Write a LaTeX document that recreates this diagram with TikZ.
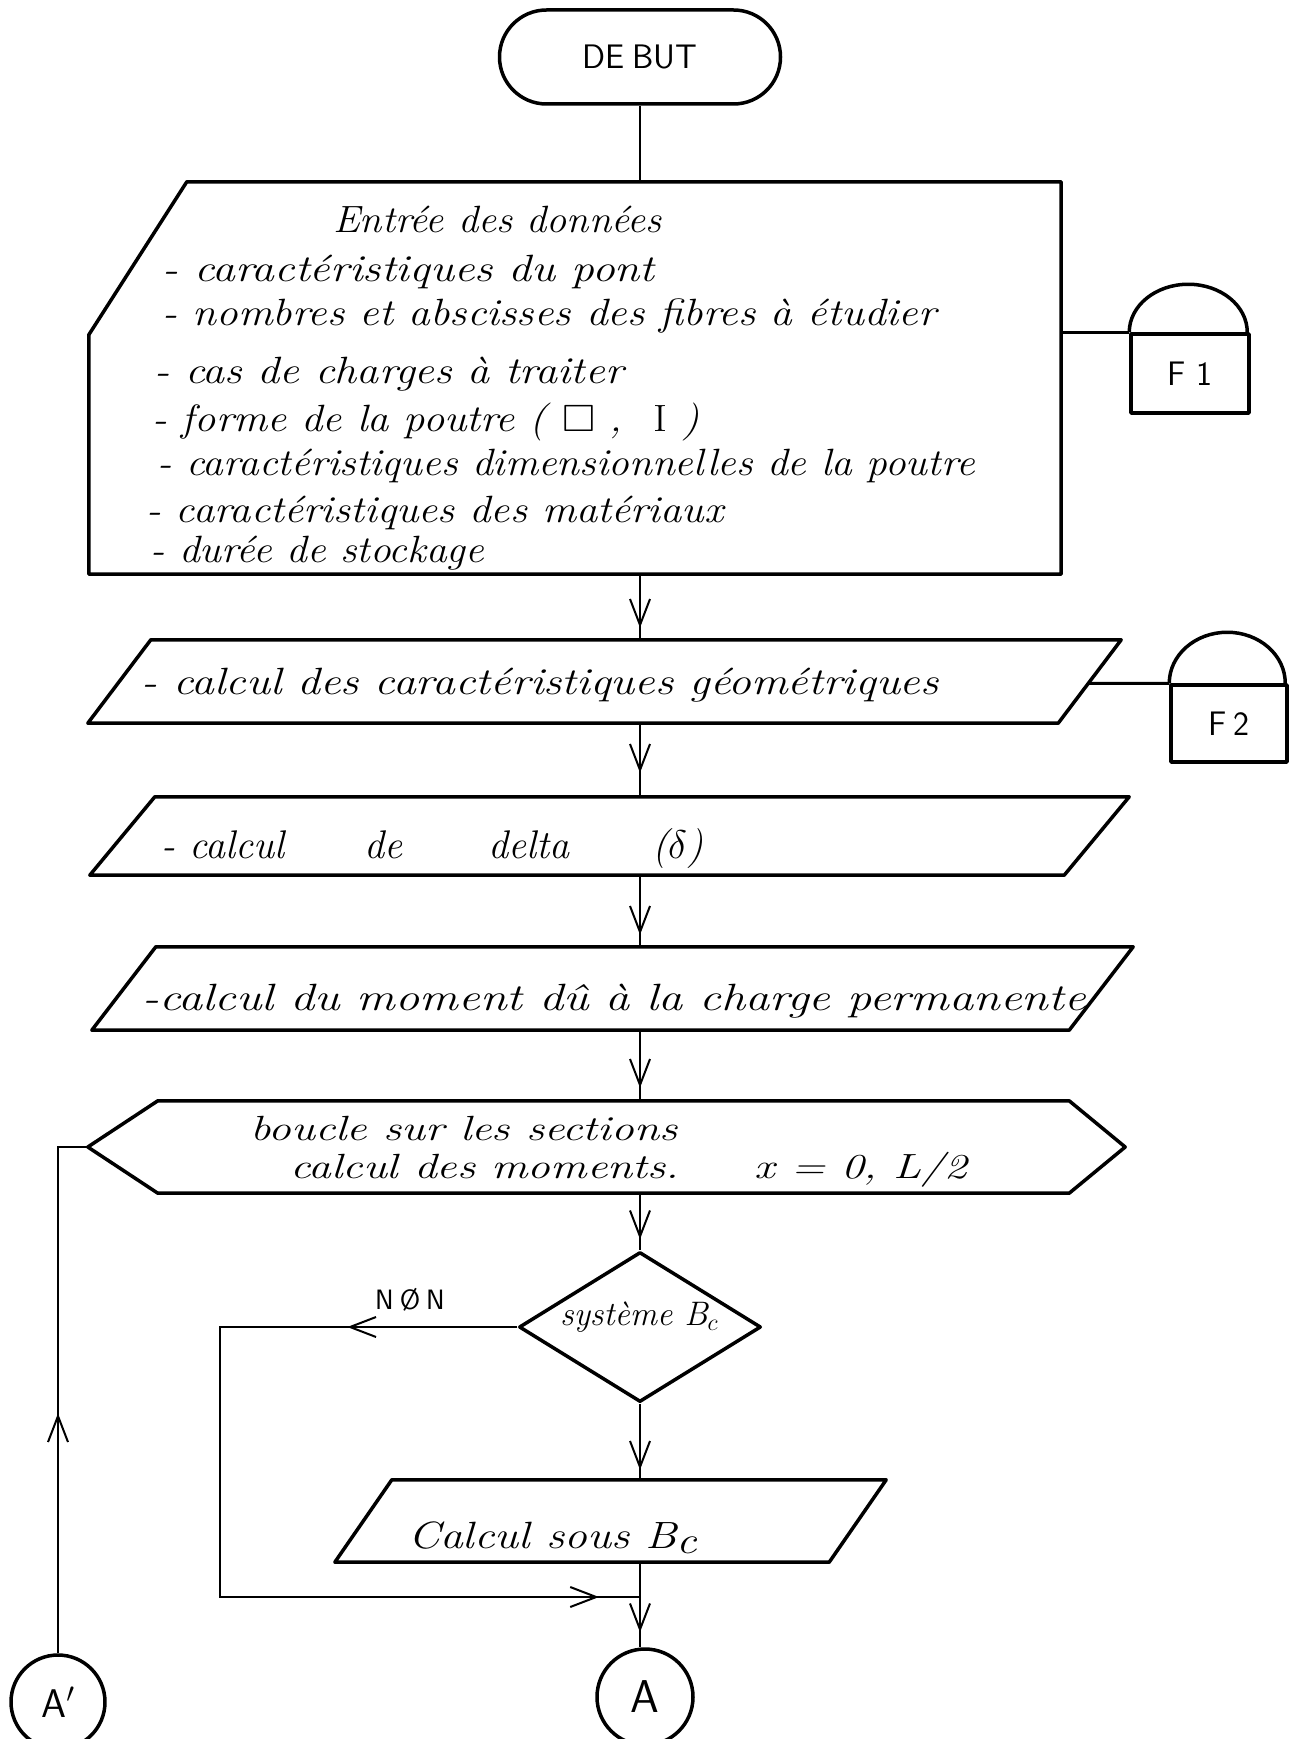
\RequirePackage{fix-cm}
\documentclass[tikz,border=0pt]{standalone}
\usepackage{amssymb}
\usepackage{graphicx}
\usetikzlibrary{arrows.meta,decorations.markings,shapes.geometric}
\newcommand\hs[2]{\scalebox{#1}[1]{#2}}
\begin{document}
\begin{tikzpicture}[x=1pt,y=-1pt,
  outline/.style={line width=3.5pt, line join=round},
  conn/.style={line width=2pt},
  frame/.style={inner sep=0pt, draw=none},
  hw/.style={font=\fontsize{38}{44}\selectfont\itshape, inner sep=0pt, anchor=base west},
  hwmid/.style={font=\fontsize{35}{40}\selectfont\itshape, inner sep=0pt, anchor=base west},
  hwsmall/.style={font=\fontsize{34}{40}\selectfont\itshape, inner sep=0pt, anchor=base west},
  caps/.style={font=\fontsize{34}{40}\selectfont\sffamily, inner sep=0pt},
  arrowat/.style={postaction={decorate,decoration={markings,mark=at position #1 with {\arrow{Straight Barb[length=26pt,width=20pt,line width=2pt]}}}}},
]
\fill[white] (0,0) rectangle (1296,1739);
\useasboundingbox (0,0) rectangle (1296,1739);

% start
\node[draw, outline, rounded corners=47pt, minimum width=281pt, minimum height=94pt, caps] (debut) at (640,57) {DE\hspace{8pt}BUT};

% input box
\node[frame, minimum width=972pt, minimum height=392pt] (in) at (575,378) {};
\draw[outline] ([xshift=98pt]in.north west) -- (in.north east) -- (in.south east) -- (in.south west) -- ([yshift=-153pt]in.north west) -- cycle;
\node[hw] (t0) at (333,233) {\hs{1.06}{Entrée des données}};
\node[hw] (t1) at (162,281) {\hs{1.2}{- caractéristiques du pont}};
\node[hw] (t2) at (162,325) {\hs{1.14}{- nombres et abscisses des fibres à étudier}};
\node[hw] (t3) at (154,383) {\hs{1.16}{- cas de charges à traiter}};
\node[hw] (t4) at (152,431) {\hs{1.12}{- forme de la poutre (\hspace{14pt}$\square$\hspace{12pt},\hspace{28pt}\textup{I}\hspace{14pt})}};
\node[hw] (t5) at (157,475) {\hs{1.09}{- caractéristiques dimensionnelles de la poutre}};
\node[hw] (t6) at (146,522) {\hs{1.12}{- caractéristiques des matériaux}};
\node[hw] (t7) at (150,562) {\hs{1.09}{- durée de stockage}};

% F1
\node[frame, draw, outline, minimum width=118pt, minimum height=79pt, caps] (f1) at (1190,373.5) {F\hspace{10pt}1};
\draw[outline] (f1.north west) arc[start angle=180, end angle=0, x radius=59pt, y radius=48pt];
\draw[line width=3pt] (in.east |- f1.north west) -- (f1.north west);

% p2
\node[frame, minimum width=1033pt, minimum height=83pt] (p2) at (604.5,681.5) {};
\draw[outline] ([xshift=63pt]p2.north west) -- (p2.north east) -- ([xshift=-63pt]p2.south east) -- (p2.south west) -- cycle;
\node[hw] (t8) at (141,694) {\hs{1.2}{- calcul des caractéristiques géométriques}};
\coordinate (p2se) at ([xshift=-63pt]p2.south east);

% F2
\node[frame, draw, outline, minimum width=116pt, minimum height=77pt, caps] (f2) at (1229,723.5) {F\hspace{6pt}2};
\draw[outline] (f2.north west) arc[start angle=180, end angle=0, x radius=58pt, y radius=51pt];
\draw[line width=3pt] (intersection of p2.north east--p2se and f2.north west--f2.north east) -- (f2.north west);

% p3
\node[frame, minimum width=1039pt, minimum height=78pt] (p3) at (609.5,836) {};
\draw[outline] ([xshift=65pt]p3.north west) -- (p3.north east) -- ([xshift=-65pt]p3.south east) -- (p3.south west) -- cycle;
\node[hw, font=\fontsize{40}{44}\selectfont\itshape] (t9) at (161,858) {\makebox[203pt][l]{- calcul}\makebox[124pt][l]{de}\makebox[164pt][l]{delta}($\delta$)};

% p4
\node[frame, minimum width=1041pt, minimum height=83pt] (p4) at (612.5,988.5) {};
\draw[outline] ([xshift=64pt]p4.north west) -- (p4.north east) -- ([xshift=-64pt]p4.south east) -- (p4.south west) -- cycle;
\node[hw] (t10) at (142,1010) {\hs{1.27}{-calcul du moment dû à la charge permanente}};

% loop hexagon
\node[frame, minimum width=1037pt, minimum height=92pt] (hex) at (606.5,1147) {};
\draw[outline] ([xshift=70pt]hex.north west) -- ([xshift=-56pt]hex.north east) -- (hex.east) -- ([xshift=-56pt]hex.south east) -- ([xshift=70pt]hex.south west) -- (hex.west) -- cycle;
\node[hwmid] (t11) at (250,1140) {\hs{1.3}{boucle sur les sections}};
\node[hwmid] (t12) at (290,1178) {\hs{1.3}{calcul des moments.\hspace{58pt}x = 0, L/2}};

% decision
\node[diamond, draw, outline, minimum width=242pt, minimum height=150pt, inner sep=0pt] (d) at (640,1327) {};
\node[hwsmall] (t13) at (560,1325) {système B$_c$};
\node[caps, font=\fontsize{28}{32}\selectfont\sffamily] (non) at (410,1300) {N\hspace{6pt}Ø\hspace{6pt}N};

% p5
\node[frame, minimum width=551pt, minimum height=82pt] (p5) at (610.5,1521) {};
\draw[outline] ([xshift=57pt]p5.north west) -- (p5.north east) -- ([xshift=-57pt]p5.south east) -- (p5.south west) -- cycle;
\node[hw] (t14) at (408,1548) {\hs{1.2}{Calcul sous B\raisebox{-5pt}{c}}};

% connectors
\node[circle, draw, outline, minimum size=96pt, inner sep=0pt, caps, font=\fontsize{46}{50}\selectfont\sffamily] (a) at (645,1697) {A};
\node[circle, draw, outline, minimum size=94pt, inner sep=0pt, caps, font=\fontsize{40}{44}\selectfont\sffamily] (ap) at (58,1702) {A$'$};
\coordinate (j) at (640,1597);

% flow lines
\draw[conn] (debut.south) -- (debut.south |- in.north);
\draw[conn, arrowat=-12pt] (debut.south |- in.south) -- (debut.south |- p2.north);
\draw[conn, arrowat=-24pt] (debut.south |- p2.south) -- (debut.south |- p3.north);
\draw[conn, arrowat=-12pt] (debut.south |- p3.south) -- (debut.south |- p4.north);
\draw[conn, arrowat=-13pt] (debut.south |- p4.south) -- (debut.south |- hex.north);
\draw[conn, arrowat=-11pt] (debut.south |- hex.south) -- (d.north);
\draw[conn, arrowat=-10pt] (d.south) -- (d.south |- p5.north);
\draw[conn, arrowat=-15pt] (d.south |- p5.south) -- (d.south |- a.north);
\draw[conn, arrowat=170pt, arrowat=-41pt] (d.west) -- ++(-297pt,0pt) |- (j);
\draw[conn, arrowat=240pt] (ap.north) |- (hex.west);
\end{tikzpicture}
\end{document}
